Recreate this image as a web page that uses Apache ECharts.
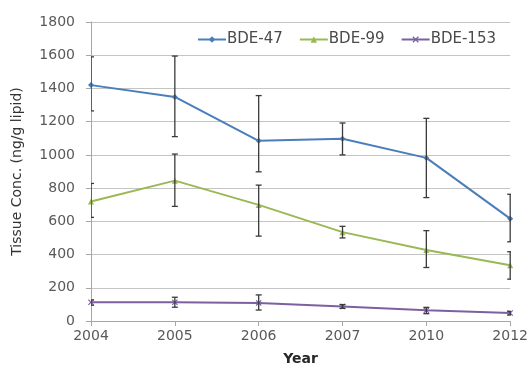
<!DOCTYPE html>
<html>
<head>
<meta charset="utf-8">
<script src="https://cdn.jsdelivr.net/npm/echarts@6/dist/echarts.min.js"></script>
<style>
html,body{margin:0;padding:0;background:#fff;}
#c{width:531px;height:371px;}
</style>
</head>
<body>
<div id="c"></div>
<script>
var years = ['2004','2005','2006','2007','2010','2012'];
var yTicks = [0,200,400,600,800,1000,1200,1400,1600,1800];

var bde47 = [1420, 1349, 1085, 1097, 982, 616];
var bde47Low = [1265, 1110, 898, 1000, 743, 477];
var bde47High = [1590, 1595, 1357, 1192, 1220, 763];

var bde99 = [719, 845, 699, 535, 427, 336];
var bde99Low = [624, 690, 511, 500, 322, 252];
var bde99High = [828, 1005, 818, 570, 544, 417];

var bde153 = [113, 113, 109, 88, 64, 48];
var bde153Low = [95, 83, 66, 76, 44, 36];
var bde153High = [127, 143, 157, 99, 82, 58];

var FONT = 'DejaVu Sans';
var xMark = 'path://M0,1.4L1.4,0L5,3.6L8.6,0L10,1.4L6.4,5L10,8.6L8.6,10L5,6.4L1.4,10L0,8.6L3.6,5Z';

function errData(low, high){
  return years.map(function(y,i){ return [i, low[i], high[i]]; });
}
function errSeries(low, high){
  return {
    type: 'custom',
    name: '_err',
    data: errData(low, high),
    clip: true,
    z: 5,
    silent: true,
    encode: {x: 0, y: [1,2]},
    renderItem: function(params, api){
      var x = api.value(0);
      var lo = api.coord([x, api.value(1)]);
      var hi = api.coord([x, api.value(2)]);
      var w = 3;
      var st = {stroke: '#3a3a3a', lineWidth: 1.3};
      return {
        type: 'group',
        children: [
          {type:'line', shape:{x1:lo[0], y1:lo[1], x2:hi[0], y2:hi[1]}, style: st},
          {type:'line', shape:{x1:lo[0]-w, y1:lo[1], x2:lo[0]+w, y2:lo[1]}, style: st},
          {type:'line', shape:{x1:hi[0]-w, y1:hi[1], x2:hi[0]+w, y2:hi[1]}, style: st}
        ]
      };
    }
  };
}

var chart = echarts.init(document.getElementById('c'), null, {renderer:'canvas'});
chart.setOption({
  animation: false,
  backgroundColor: '#fff',
  textStyle: {fontFamily: FONT},
  grid: {left: 91, right: 20, top: 22, bottom: 47, containLabel: false},
  legend: {
    top: 27, right: 30,
    itemWidth: 28, itemHeight: 8, itemGap: 16,
    data: ['BDE-47','BDE-99','BDE-153'],
    textStyle: {color: '#4a4a4a', fontSize: 15, fontFamily: FONT, padding: [0,0,0,-4]}
  },
  xAxis: {
    type: 'category',
    data: years,
    boundaryGap: false,
    name: 'Year',
    nameLocation: 'middle',
    nameGap: 31,
    nameTextStyle: {color: '#262626', fontSize: 14, fontWeight: 'bold', fontFamily: FONT},
    axisLine: {lineStyle: {color: '#a6a6a6', width: 1}},
    axisTick: {show: true, length: 5, lineStyle: {color: '#a6a6a6'}},
    axisLabel: {color: '#595959', fontSize: 14, margin: 8, fontFamily: FONT},
    splitLine: {show: false}
  },
  yAxis: {
    type: 'value',
    min: 0, max: 1800, interval: 200,
    name: 'Tissue Conc. (ng/g lipid)',
    nameLocation: 'middle',
    nameGap: 67,
    nameTextStyle: {color: '#333', fontSize: 14, fontFamily: FONT},
    axisLine: {show: true, lineStyle: {color: '#a6a6a6', width: 1}},
    axisTick: {show: true, length: 5, lineStyle: {color: '#a6a6a6'}},
    axisLabel: {color: '#595959', fontSize: 14, margin: 16, fontFamily: FONT,
      formatter: function(v){ return yTicks.indexOf(v) >= 0 ? String(v) : ''; }},
    splitLine: {show: true, lineStyle: {color: '#c4c4c4', width: 1}}
  },
  series: [
    {
      name: 'BDE-47', type: 'line', data: bde47,
      color: '#4a7ebb',
      symbol: 'diamond', symbolSize: 6, showSymbol: true,
      lineStyle: {width: 2, color: '#4a7ebb'},
      itemStyle: {color: '#4a7ebb'},
      z: 3
    },
    {
      name: 'BDE-99', type: 'line', data: bde99,
      color: '#98b954',
      symbol: 'triangle', symbolSize: 6, showSymbol: true,
      lineStyle: {width: 2, color: '#98b954'},
      itemStyle: {color: '#98b954'},
      z: 3
    },
    {
      name: 'BDE-153', type: 'line', data: bde153,
      color: '#7d60a0',
      symbol: xMark, symbolSize: 6, showSymbol: true,
      lineStyle: {width: 2, color: '#7d60a0'},
      itemStyle: {color: '#7d60a0'},
      z: 3
    },
    errSeries(bde47Low, bde47High),
    errSeries(bde99Low, bde99High),
    errSeries(bde153Low, bde153High)
  ]
});
</script>
</body>
</html>
